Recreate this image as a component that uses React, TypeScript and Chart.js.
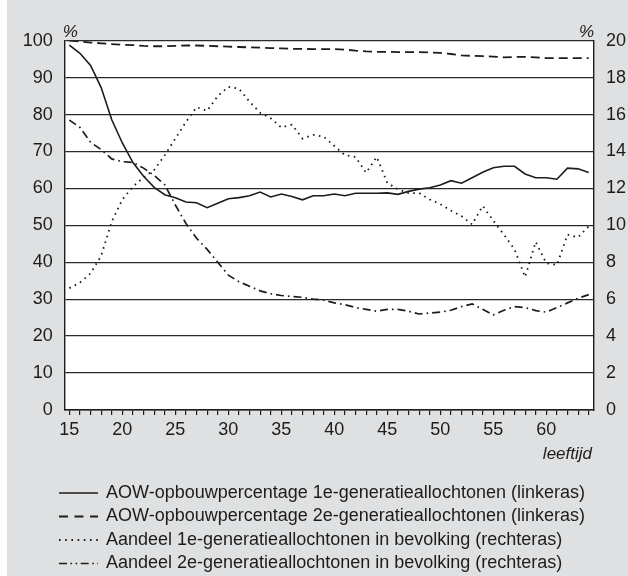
import React, { useEffect, useRef } from "react";
import { Chart, registerables } from "chart.js";

Chart.register(...registerables);

const FONT = "'Liberation Sans', Arial, Helvetica, sans-serif";

const ages = [
  15, 16, 17, 18, 19, 20, 21, 22, 23, 24,
  25, 26, 27, 28, 29, 30, 31, 32, 33, 34,
  35, 36, 37, 38, 39, 40, 41, 42, 43, 44,
  45, 46, 47, 48, 49, 50, 51, 52, 53, 54,
  55, 56, 57, 58, 59, 60, 61, 62, 63, 64,
];

// AOW-opbouwpercentage 1e-generatieallochtonen (linkeras, %)
const aow1e = [
  98.8, 96.6, 93.3, 87.3, 78.6, 72.3, 67.0, 63.3, 60.3, 58.3,
  57.5, 56.3, 56.1, 54.8, 56.0, 57.2, 57.5, 58.0, 59.0, 57.7,
  58.5, 57.8, 56.9, 58.0, 58.0, 58.5, 58.0, 58.7, 58.7, 58.7,
  58.8, 58.4, 59.2, 59.8, 60.2, 60.9, 62.1, 61.4, 62.9, 64.4,
  65.6, 66.0, 66.0, 63.9, 62.9, 62.9, 62.5, 65.5, 65.3, 64.3,
];

// AOW-opbouwpercentage 2e-generatieallochtonen (linkeras, %)
const aow2e = [
  100, 99.8, 99.5, 99.3, 99.1, 98.9, 98.8, 98.6, 98.5, 98.5,
  98.6, 98.7, 98.7, 98.6, 98.5, 98.4, 98.3, 98.2, 98.1, 98.0,
  97.9, 97.8, 97.8, 97.7, 97.7, 97.7, 97.6, 97.3, 97.1, 97.0,
  97.0, 96.9, 96.9, 96.9, 96.8, 96.7, 96.4, 96.0, 95.9, 95.8,
  95.7, 95.5, 95.6, 95.6, 95.5, 95.3, 95.3, 95.3, 95.3, 95.3,
];

// Aandeel 1e-generatieallochtonen in bevolking (rechteras, %)
const aandeel1e = [
  6.6, 6.9, 7.4, 8.35, 10.2, 11.4, 12.1, 12.6, 13.0, 13.8,
  14.7, 15.6, 16.4, 16.2, 17.0, 17.5, 17.4, 16.7, 16.1, 15.8,
  15.3, 15.45, 14.7, 14.9, 14.8, 14.3, 13.8, 13.7, 12.85, 13.7,
  12.3, 11.95, 11.75, 11.75, 11.4, 11.15, 10.8, 10.5, 10.05, 11.05,
  10.25, 9.5, 8.7, 7.2, 9.1, 7.95, 7.85, 9.5, 9.35, 9.95,
];

// Aandeel 2e-generatieallochtonen in bevolking (rechteras, %)
const aandeel2e = [
  15.7, 15.3, 14.5, 14.1, 13.6, 13.45, 13.4, 13.1, 12.7, 12.2,
  11.1, 10.1, 9.3, 8.7, 8.0, 7.3, 6.95, 6.7, 6.45, 6.3,
  6.2, 6.15, 6.1, 6.0, 5.95, 5.8, 5.7, 5.55, 5.45, 5.35,
  5.45, 5.45, 5.35, 5.2, 5.25, 5.3, 5.4, 5.6, 5.75, 5.45,
  5.15, 5.4, 5.6, 5.55, 5.38, 5.3, 5.55, 5.8, 6.05, 6.25,
];

const seriesLabels = [
  "AOW-opbouwpercentage 1e-generatieallochtonen (linkeras)",
  "AOW-opbouwpercentage 2e-generatieallochtonen (linkeras)",
  "Aandeel 1e-generatieallochtonen in bevolking (rechteras)",
  "Aandeel 2e-generatieallochtonen in bevolking (rechteras)",
];

const legendDashes = [[], [9, 6.5], [1.6, 4.6], [8, 3.5, 1.6, 3.5, 1.6, 3.5]];

const xLabelTicks = [15, 20, 25, 30, 35, 40, 45, 50, 55, 60];
const leftTicks = [0, 10, 20, 30, 40, 50, 60, 70, 80, 90, 100];
const rightTicks = [0, 2, 4, 6, 8, 10, 12, 14, 16, 18, 20];

const INK = "#1c1c1c";

const decorPlugin = {
  id: "decor",
  beforeDraw(chart: any) {
    const { ctx, chartArea: a } = chart;
    ctx.save();
    ctx.fillStyle = "#ffffff";
    ctx.fillRect(a.left, a.top, a.right - a.left, a.bottom - a.top);
    ctx.restore();
  },
  afterDraw(chart: any) {
    const { ctx, chartArea: a } = chart;
    ctx.save();
    ctx.fillStyle = INK;
    ctx.font = `italic 17px ${FONT}`;
    ctx.textBaseline = "alphabetic";
    ctx.textAlign = "left";
    ctx.fillText("%", a.left - 2, a.top - 4);
    ctx.textAlign = "right";
    ctx.fillText("%", a.right, a.top - 4);
    ctx.textBaseline = "middle";
    ctx.fillText("leeftijd", a.right - 2, a.bottom + 44);

    const rowTop = 493;
    const rowGap = 23.5;
    const x1 = 52;
    const x2 = 91;
    const tx = 99;
    chart.data.datasets.forEach((ds: any, i: number) => {
      const y = rowTop + i * rowGap;
      ctx.strokeStyle = ds.borderColor;
      ctx.lineWidth = ds.borderWidth;
      ctx.setLineDash(legendDashes[i]);
      ctx.beginPath();
      ctx.moveTo(x1, y);
      ctx.lineTo(x2, y);
      ctx.stroke();
      ctx.setLineDash([]);
      ctx.fillStyle = INK;
      ctx.textAlign = "left";
      ctx.textBaseline = "middle";
      ctx.font = `18px ${FONT}`;
      ctx.fillText(ds.label, tx, y);
    });
    ctx.restore();
  },
};

export default function App() {
  const ref = useRef<HTMLCanvasElement | null>(null);

  useEffect(() => {
    if (!ref.current) return;
    const pts = (arr: number[]) => ages.map((a, i) => ({ x: a, y: arr[i] }));
    const chart = new Chart(ref.current, {
      type: "line",
      data: {
        datasets: [
          {
            label: seriesLabels[0],
            data: pts(aow1e),
            yAxisID: "y",
            borderColor: INK,
            borderWidth: 1.6,
            borderDash: [],
          },
          {
            label: seriesLabels[1],
            data: pts(aow2e),
            yAxisID: "y",
            borderColor: INK,
            borderWidth: 1.8,
            borderDash: [9, 5],
          },
          {
            label: seriesLabels[2],
            data: pts(aandeel1e),
            yAxisID: "y2",
            borderColor: INK,
            borderWidth: 1.8,
            borderDash: [1.6, 4.4],
          },
          {
            label: seriesLabels[3],
            data: pts(aandeel2e),
            yAxisID: "y2",
            borderColor: INK,
            borderWidth: 1.7,
            borderDash: [8, 4, 1.6, 4],
          },
        ],
      },
      options: {
        responsive: false,
        animation: false,
        devicePixelRatio: 1,
        layout: { padding: { top: 40.7, left: 0, right: 0, bottom: 0 } },
        elements: {
          point: { radius: 0 },
          line: { tension: 0, fill: false },
        },
        plugins: {
          legend: { display: false },
          tooltip: { enabled: false },
        },
        scales: {
          x: {
            type: "linear",
            min: 14.56,
            max: 64.5,
            afterBuildTicks: (scale: any) => {
              scale.ticks = ages.map((v) => ({ value: v }));
            },
            afterFit: (scale: any) => {
              scale.height = 166;
            },
            grid: {
              drawOnChartArea: false,
              drawTicks: true,
              tickLength: 5,
              color: INK,
              lineWidth: 1.2,
            },
            border: { display: true, color: INK, width: 1.4 },
            ticks: {
              autoSkip: false,
              maxRotation: 0,
              padding: 4,
              color: INK,
              font: { family: FONT, size: 18 },
              callback: (v: any) => (xLabelTicks.includes(Number(v)) ? String(v) : ""),
            },
          },
          y: {
            position: "left",
            min: 0,
            max: 100,
            afterBuildTicks: (scale: any) => {
              scale.ticks = leftTicks.map((v) => ({ value: v }));
            },
            afterFit: (scale: any) => {
              scale.width = 57.7;
            },
            grid: {
              drawOnChartArea: true,
              drawTicks: false,
              color: "#2a2a2a",
              lineWidth: 1.3,
            },
            border: { display: true, color: INK, width: 1.4 },
            ticks: {
              padding: 12,
              color: INK,
              font: { family: FONT, size: 18 },
            },
          },
          y2: {
            position: "right",
            min: 0,
            max: 20,
            afterBuildTicks: (scale: any) => {
              scale.ticks = rightTicks.map((v) => ({ value: v }));
            },
            afterFit: (scale: any) => {
              scale.width = 34;
            },
            grid: { drawOnChartArea: false, drawTicks: false },
            border: { display: true, color: INK, width: 1.4 },
            ticks: {
              padding: 12,
              color: INK,
              font: { family: FONT, size: 18 },
            },
          },
        },
      },
      plugins: [decorPlugin],
    });
    return () => chart.destroy();
  }, []);

  return (
    <div
      style={{
        position: "fixed",
        left: 7,
        top: 0,
        width: 621,
        height: 576,
        background: "#dfe0e1",
      }}
    >
      <canvas ref={ref} width={621} height={576} style={{ display: "block" }} />
    </div>
  );
}
